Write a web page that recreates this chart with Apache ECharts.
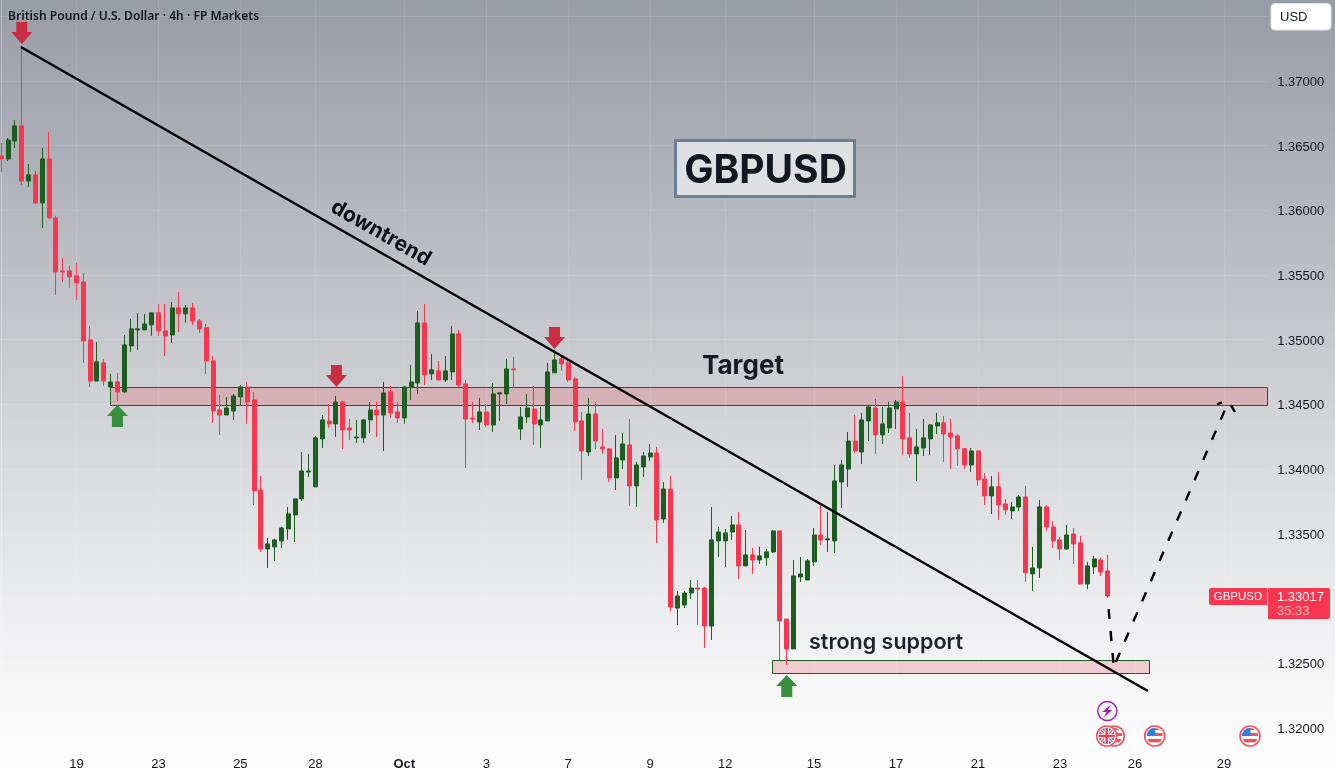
<!DOCTYPE html>
<html>
<head>
<meta charset="utf-8">
<title>GBPUSD 4h</title>
<style>html,body{margin:0;padding:0;background:#fff}#chart{width:1335px;height:777px}</style>
<script src="https://cdn.jsdelivr.net/npm/echarts@6/dist/echarts.min.js"></script>
</head>
<body>
<div id="chart"></div>
<script>
// GBP/USD 4h candles, oldest first.
const opens = [1.36421,1.36397,1.36536,1.36653,1.36227,1.36274,1.36057,1.36397,1.35941,1.35531,
1.35531,1.35493,1.35446,1.34998,1.34680,1.34820,1.34634,1.34673,1.34596,1.34951,
1.35075,1.35075,1.35114,1.35207,1.35067,1.35036,1.35245,1.35199,1.35245,1.35144,
1.35091,1.34835,1.34456,1.34417,1.34448,1.34557,1.34626,1.34533,1.33837,1.33381,
1.33397,1.33443,1.33536,1.33644,1.33768,1.33976,1.33861,1.34232,1.34371,1.34348,
1.34518,1.34317,1.34240,1.34240,1.34379,1.34456,1.34417,1.34596,1.34441,1.34394,
1.34634,1.34665,1.35129,1.34735,1.34758,1.34688,1.34750,1.35044,1.34657,1.34394,
1.34363,1.34441,1.34340,1.34580,1.34580,1.34773,1.34309,1.34402,1.34464,1.34340,
1.34371,1.34743,1.34851,1.34820,1.34696,1.34371,1.34131,1.34425,1.34170,1.34155,
1.33930,1.34069,1.34185,1.33868,1.34015,1.34092,1.34123,1.33613,1.33845,1.32924,
1.32947,1.33040,1.33079,1.33079,1.32785,1.33443,1.33443,1.33512,1.33567,1.33250,
1.33335,1.33296,1.33312,1.33358,1.33520,1.32839,1.32608,1.33164,1.33141,1.33281,
1.33489,1.33451,1.33443,1.33899,1.33999,1.34216,1.34131,1.34371,1.34471,1.34263,
1.34317,1.34464,1.34518,1.34240,1.34116,1.34162,1.34232,1.34332,1.34356,1.34278,
1.34255,1.34155,1.34031,1.34139,1.33922,1.33791,1.33861,1.33729,1.33675,1.33706,
1.33783,1.33188,1.33234,1.33706,1.33551,1.33451,1.33381,1.33497,1.33428,1.33110,
1.33242,1.33296,1.33211];
const highs = [1.36521,1.36559,1.36699,1.37263,1.36358,1.36304,1.36482,1.36606,1.35957,1.35632,
1.35570,1.35593,1.35516,1.35106,1.34982,1.34851,1.34735,1.34743,1.35036,1.35160,
1.35207,1.35199,1.35207,1.35276,1.35276,1.35291,1.35369,1.35268,1.35284,1.35160,
1.35121,1.34874,1.34572,1.34557,1.34580,1.34649,1.34673,1.34596,1.33945,1.33466,
1.33459,1.33551,1.33706,1.33768,1.34131,1.34116,1.34255,1.34417,1.34502,1.34564,
1.34526,1.34386,1.34379,1.34386,1.34518,1.34518,1.34673,1.34642,1.34518,1.34642,
1.34804,1.35222,1.35276,1.34889,1.34835,1.34874,1.35106,1.35075,1.34688,1.34518,
1.34549,1.34502,1.34665,1.34596,1.34851,1.34866,1.34479,1.34580,1.34642,1.34479,
1.34820,1.34920,1.34866,1.34843,1.34711,1.34441,1.34549,1.34518,1.34309,1.34155,
1.34263,1.34278,1.34386,1.34054,1.34131,1.34193,1.34170,1.33899,1.33945,1.33056,
1.33056,1.33141,1.33141,1.33087,1.33706,1.33551,1.33536,1.33636,1.33667,1.33528,
1.33389,1.33397,1.33381,1.33528,1.33520,1.32839,1.33296,1.33319,1.33304,1.33543,
1.33729,1.33667,1.34031,1.34069,1.34286,1.34417,1.34433,1.34494,1.34541,1.34479,
1.34518,1.34533,1.34719,1.34433,1.34309,1.34386,1.34348,1.34433,1.34410,1.34386,
1.34270,1.34162,1.34162,1.34139,1.33968,1.33945,1.33976,1.33768,1.33745,1.33799,
1.33868,1.33397,1.33760,1.33721,1.33597,1.33474,1.33567,1.33543,1.33482,1.33281,
1.33327,1.33312,1.33335];
const lows = [1.36297,1.36381,1.36482,1.36196,1.36181,1.36049,1.35864,1.35941,1.35346,1.35446,
1.35400,1.35307,1.34820,1.34634,1.34680,1.34642,1.34611,1.34526,1.34588,1.34905,
1.34920,1.35075,1.35028,1.35028,1.34874,1.34974,1.35059,1.35129,1.35114,1.35052,
1.34735,1.34356,1.34263,1.34417,1.34379,1.34487,1.34348,1.33721,1.33358,1.33234,
1.33289,1.33389,1.33451,1.33435,1.33752,1.33938,1.33861,1.34162,1.34317,1.34247,
1.34155,1.34224,1.34201,1.34201,1.34278,1.34247,1.34139,1.34394,1.34356,1.34348,
1.34533,1.34580,1.34649,1.34688,1.34688,1.34673,1.34688,1.34634,1.34007,1.34356,
1.34301,1.34325,1.34286,1.34371,1.34502,1.34626,1.34224,1.34356,1.34185,1.34162,
1.34371,1.34743,1.34758,1.34673,1.34294,1.33915,1.34100,1.34155,1.34116,1.33899,
1.33837,1.33999,1.33713,1.33706,1.33938,1.34062,1.33428,1.33582,1.32901,1.32793,
1.32924,1.32994,1.32793,1.32615,1.32677,1.33319,1.33242,1.33451,1.33149,1.33250,
1.33188,1.33265,1.33250,1.33350,1.32522,1.32484,1.32608,1.33126,1.33141,1.33250,
1.33412,1.33358,1.33350,1.33698,1.33861,1.34123,1.34038,1.34216,1.34116,1.34193,
1.34278,1.34309,1.34108,1.34085,1.33907,1.34100,1.34108,1.34270,1.34054,1.33999,
1.34023,1.33999,1.33976,1.33868,1.33721,1.33652,1.33605,1.33644,1.33613,1.33675,
1.33126,1.33056,1.33157,1.33520,1.33389,1.33296,1.33373,1.33265,1.33110,1.33071,
1.33188,1.33172,1.33002];
const closes = [1.36397,1.36544,1.36653,1.36227,1.36274,1.36057,1.36397,1.35941,1.35523,1.35523,
1.35485,1.35438,1.34990,1.34680,1.34828,1.34680,1.34673,1.34596,1.34959,1.35083,
1.35083,1.35121,1.35207,1.35067,1.35028,1.35245,1.35199,1.35245,1.35144,1.35083,
1.34835,1.34448,1.34417,1.34471,1.34564,1.34634,1.34518,1.33830,1.33381,1.33420,
1.33451,1.33543,1.33652,1.33768,1.33984,1.33984,1.34240,1.34379,1.34348,1.34518,
1.34301,1.34301,1.34247,1.34379,1.34456,1.34417,1.34588,1.34433,1.34394,1.34634,
1.34673,1.35129,1.34727,1.34766,1.34688,1.34758,1.35044,1.34649,1.34386,1.34386,
1.34441,1.34340,1.34580,1.34588,1.34773,1.34766,1.34402,1.34471,1.34348,1.34379,
1.34750,1.34843,1.34812,1.34688,1.34363,1.34139,1.34425,1.34216,1.34155,1.33930,
1.34085,1.34193,1.33868,1.34031,1.34100,1.34123,1.33605,1.33845,1.32932,1.33017,
1.33040,1.33079,1.33071,1.32785,1.33451,1.33512,1.33505,1.33567,1.33250,1.33335,
1.33296,1.33327,1.33358,1.33520,1.32824,1.32608,1.33172,1.33188,1.33289,1.33489,
1.33451,1.33459,1.33907,1.34031,1.34216,1.34139,1.34379,1.34479,1.34263,1.34348,
1.34471,1.34518,1.34232,1.34116,1.34170,1.34240,1.34340,1.34356,1.34270,1.34247,
1.34155,1.34031,1.34139,1.33915,1.33791,1.33861,1.33721,1.33683,1.33706,1.33783,
1.33196,1.33234,1.33706,1.33551,1.33443,1.33381,1.33489,1.33420,1.33110,1.33250,
1.33304,1.33203,1.33017];

// Time axis: bar slots (history plus empty future) and the labelled bars.
const slotCount = 186;
const tickBars = [11,23,35,46,59,71,83,95,106,119,131,143,155,166,179];
const tickLabels = ['19','23','25','28','Oct','3','7','9','12','15','17','21','23','26','29'];

// Drawn analysis, as [bar, price] pairs.
const trendLine = [[2.87,1.37263],[167.88,1.32282]];
const projection = [[162.12,1.32916],[162.83,1.32499],[null,null],[163.19,1.32507],[179.81,1.34537]];
const projectionHead = [[177.98,1.34498],[178.71,1.34515],[null,null],[180.03,1.34494],[180.62,1.34440]];
const targetZone = [[15.94,185.3,1.34630,1.34494]];
const supportZone = [[112.83,168.0,1.32520,1.32418]];
const sellArrows = [[3,1.37372],[49.06,1.34718],[81,1.35012]];
const buyArrows = [[17,1.34409],[115,1.32321]];

const RED = '#f7374f', GREEN = '#1b5e20', INK = '#131722';
const UI_FONT = 'Liberation Sans, Arial, sans-serif';
const barData = opens.map((o, i) => [o, closes[i], lows[i], highs[i]]);
const categories = Array.from({length: slotCount}, (_, i) => {
  const k = tickBars.indexOf(i);
  return k >= 0 ? tickLabels[k] : '';
});

function zoneSeries(data) {
  return {
    type: 'custom', xAxisIndex: 1, yAxisIndex: 0, z: 1, silent: true, clip: false,
    data, encode: {x: [0, 1], y: [2, 3]},
    renderItem(params, api) {
      const a = api.coord([api.value(0), api.value(2)]);
      const b = api.coord([api.value(1), api.value(3)]);
      const x = Math.round(a[0]) + 0.5, y = Math.round(a[1]) + 0.5;
      return {
        type: 'rect',
        shape: {x, y, width: Math.round(b[0] - a[0]), height: Math.round(b[1] - a[1])},
        style: {fill: 'rgba(232,80,96,0.25)', stroke: GREEN, lineWidth: 1}
      };
    }
  };
}

function flagIcon(kind) {
  const ring = '<circle cx="12" cy="12" r="10" fill="#fff" stroke="#f7525f" stroke-width="1.6"/>';
  const clip = '<clipPath id="c"><circle cx="12" cy="12" r="8"/></clipPath>';
  let body;
  if (kind === 'us') {
    body = '<g clip-path="url(#c)"><rect width="24" height="24" fill="#fff"/>' +
      '<rect y="3" width="24" height="3" fill="#ef5350"/><rect y="9" width="24" height="3" fill="#ef5350"/>' +
      '<rect y="15" width="24" height="3.4" fill="#ef5350"/><rect x="2" y="2" width="10.5" height="10" fill="#2f80ed"/></g>';
  } else {
    body = '<g clip-path="url(#c)"><rect width="24" height="24" fill="#2a5fa8"/>' +
      '<path d="M2 2L22 22M22 2L2 22" stroke="#fff" stroke-width="3.4"/>' +
      '<path d="M2 2L22 22M22 2L2 22" stroke="#e8404f" stroke-width="1.2"/>' +
      '<path d="M12 2V22M2 12H22" stroke="#fff" stroke-width="4.4"/>' +
      '<path d="M12 2V22M2 12H22" stroke="#e8404f" stroke-width="2.4"/></g>';
  }
  return 'data:image/svg+xml;charset=utf-8,' + encodeURIComponent(
    '<svg xmlns="http://www.w3.org/2000/svg" width="24" height="24" viewBox="0 0 24 24">' + clip + ring + body + '</svg>');
}
const boltIcon = 'data:image/svg+xml;charset=utf-8,' + encodeURIComponent(
  '<svg xmlns="http://www.w3.org/2000/svg" width="24" height="24" viewBox="0 0 24 24">' +
  '<circle cx="12" cy="12" r="9.6" fill="#f4f4f6" stroke="#9c27b0" stroke-width="1.5"/>' +
  '<path d="M15.6 5.4L7 13H11.2L8.6 18.6L17 11H12.8Z" fill="#9c27b0"/></svg>');
const icon = (src, cx, cy, z) => ({type: 'image', z, silent: true, style: {image: src, x: cx - 12, y: cy - 12, width: 24, height: 24}});

const chart = echarts.init(document.getElementById('chart'), null, {renderer: 'canvas'});
chart.setOption({
  animation: false,
  backgroundColor: {
    type: 'linear', x: 0, y: 0, x2: 0, y2: 1,
    colorStops: [
      {offset: 0, color: '#989ca6'},
      {offset: 0.2, color: '#aeb0b8'},
      {offset: 0.4, color: '#c3c5ca'},
      {offset: 0.65, color: '#dfe0e3'},
      {offset: 0.9, color: '#f8f8f9'},
      {offset: 1, color: '#ffffff'}
    ]
  },
  grid: {left: -2.1, width: 1270.38, top: -48.3, height: 840.45, containLabel: false, outerBoundsMode: 'none'},
  xAxis: [
    {
      type: 'category', data: categories, boundaryGap: true, offset: -40,
      axisLine: {show: false}, axisTick: {show: false}, splitLine: {show: false},
      axisLabel: {
        interval: (i) => tickBars.includes(i), margin: 6, hideOverlap: false,
        color: INK, fontFamily: UI_FONT, fontSize: 13,
        formatter: (v) => v === 'Oct' ? '{month|Oct}' : v,
        rich: {month: {fontWeight: 700, fontFamily: UI_FONT, fontSize: 13, color: INK}}
      }
    },
    {type: 'value', show: false, min: -0.5, max: slotCount - 0.5, splitLine: {show: false}}
  ],
  yAxis: {
    type: 'value', position: 'right', min: 1.315, max: 1.38, interval: 0.005, offset: -1,
    axisLine: {show: true, lineStyle: {color: 'rgba(255,255,255,0.25)'}},
    axisTick: {show: false},
    axisLabel: {
      margin: 10, color: INK, fontFamily: UI_FONT, fontSize: 13,
      formatter: (v) => '{price|' + v.toFixed(5) + '}',
      rich: {price: {color: INK, fontFamily: UI_FONT, fontSize: 13, padding: [3, 0, 0, 0]}}
    },
    splitLine: {show: true, lineStyle: {color: 'rgba(255,255,255,0.11)', width: 1}}
  },
  series: [
    {
      type: 'line', xAxisIndex: 1, yAxisIndex: 0, data: [], z: 0, silent: true,
      markLine: {
        silent: true, symbol: 'none', label: {show: false}, animation: false,
        lineStyle: {color: 'rgba(255,255,255,0.09)', width: 1, type: 'solid'},
        data: tickBars.map((b) => ({xAxis: b}))
      }
    },
    zoneSeries(targetZone),
    zoneSeries(supportZone),
    {
      type: 'candlestick', xAxisIndex: 0, yAxisIndex: 0, data: barData, z: 2, barWidth: 4.5, silent: true,
      itemStyle: {color: GREEN, color0: RED, borderColor: GREEN, borderColor0: RED, borderWidth: 1}
    },
    {
      type: 'line', xAxisIndex: 1, yAxisIndex: 0, data: trendLine, z: 3, silent: true,
      showSymbol: false, lineStyle: {color: '#000', width: 2.4}
    },
    {
      type: 'line', xAxisIndex: 1, yAxisIndex: 0, data: projection, z: 3, silent: true, connectNulls: false,
      showSymbol: false, lineStyle: {color: '#000', width: 2.4, type: [10, 12]}
    },
    {
      type: 'line', xAxisIndex: 1, yAxisIndex: 0, data: projectionHead, z: 3, silent: true, connectNulls: false,
      showSymbol: false, lineStyle: {color: '#000', width: 2.4}
    },
    {
      type: 'scatter', xAxisIndex: 1, yAxisIndex: 0, data: sellArrows, z: 4, silent: true,
      symbol: 'path://M5,0H16V10H21L10.5,22L0,10H5Z', symbolSize: [21, 22],
      itemStyle: {color: '#c92f40', opacity: 1}
    },
    {
      type: 'scatter', xAxisIndex: 1, yAxisIndex: 0, data: buyArrows, z: 4, silent: true,
      symbol: 'path://M10.5,0L21,11H16V22H5V11H0Z', symbolSize: [21, 22],
      itemStyle: {color: '#388e3c', opacity: 1}
    }
  ],
  graphic: [
    {type: 'text', z: 100, silent: true, style: {x: 8, y: 17, text: 'British Pound / U.S. Dollar · 4h · FP Markets',
      fill: INK, font: '600 12.1px "Noto Sans", sans-serif', textVerticalAlign: 'middle'}},
    {type: 'rect', z: 100, silent: true, shape: {x: 675.5, y: 140.5, width: 179, height: 56},
      style: {fill: '#dfe0e4', stroke: '#6a7f91', lineWidth: 3}},
    {type: 'text', z: 101, silent: true, style: {x: 765.5, y: 171, text: 'GBPUSD', fill: INK,
      font: '700 39px Inter, sans-serif', textAlign: 'center', textVerticalAlign: 'middle'}},
    {type: 'text', z: 100, silent: true, style: {x: 743, y: 366, text: 'Target', fill: '#171a22',
      font: '700 26px Inter, sans-serif', textAlign: 'center', textVerticalAlign: 'middle'}},
    {type: 'text', z: 100, silent: true, style: {x: 886, y: 643, text: 'strong support', fill: '#1e222d',
      font: '600 21.5px Inter, sans-serif', textAlign: 'center', textVerticalAlign: 'middle'}},
    {type: 'text', z: 100, silent: true, x: 381, y: 233, rotation: -0.52, style: {x: 0, y: 0, text: 'downtrend', fill: '#0c0e14',
      font: '700 21px Inter, sans-serif', textAlign: 'center', textVerticalAlign: 'middle'}},
    {type: 'rect', z: 100, silent: true, shape: {x: 1271, y: 3.5, width: 60, height: 26.5, r: 4},
      style: {fill: '#fff', stroke: '#e0e3eb', lineWidth: 1}},
    {type: 'text', z: 101, silent: true, style: {x: 1280, y: 17, text: 'USD', fill: INK,
      font: '13px ' + UI_FONT, textVerticalAlign: 'middle'}},
    {type: 'rect', z: 100, silent: true, shape: {x: 1209, y: 588, width: 58, height: 17, r: [2, 0, 0, 2]}, style: {fill: RED}},
    {type: 'rect', z: 100, silent: true, shape: {x: 1268, y: 588, width: 62, height: 31, r: [0, 2, 2, 0]}, style: {fill: RED}},
    {type: 'text', z: 101, silent: true, style: {x: 1238, y: 597, text: 'GBPUSD', fill: '#fff',
      font: '11.5px ' + UI_FONT, textAlign: 'center', textVerticalAlign: 'middle'}},
    {type: 'text', z: 101, silent: true, style: {x: 1277, y: 597, text: '1.33017', fill: '#fff',
      font: '13px ' + UI_FONT, textVerticalAlign: 'middle'}},
    {type: 'text', z: 101, silent: true, style: {x: 1277, y: 611, text: '35:33', fill: '#fbb4bc',
      font: '13px ' + UI_FONT, textVerticalAlign: 'middle'}},
    icon(boltIcon, 1107.3, 711, 100),
    icon(flagIcon('us'), 1114.3, 736, 100),
    icon(flagIcon('uk'), 1106.7, 736, 101),
    icon(flagIcon('us'), 1154.7, 736, 100),
    icon(flagIcon('us'), 1250, 736, 100)
  ]
});
</script>
</body>
</html>
